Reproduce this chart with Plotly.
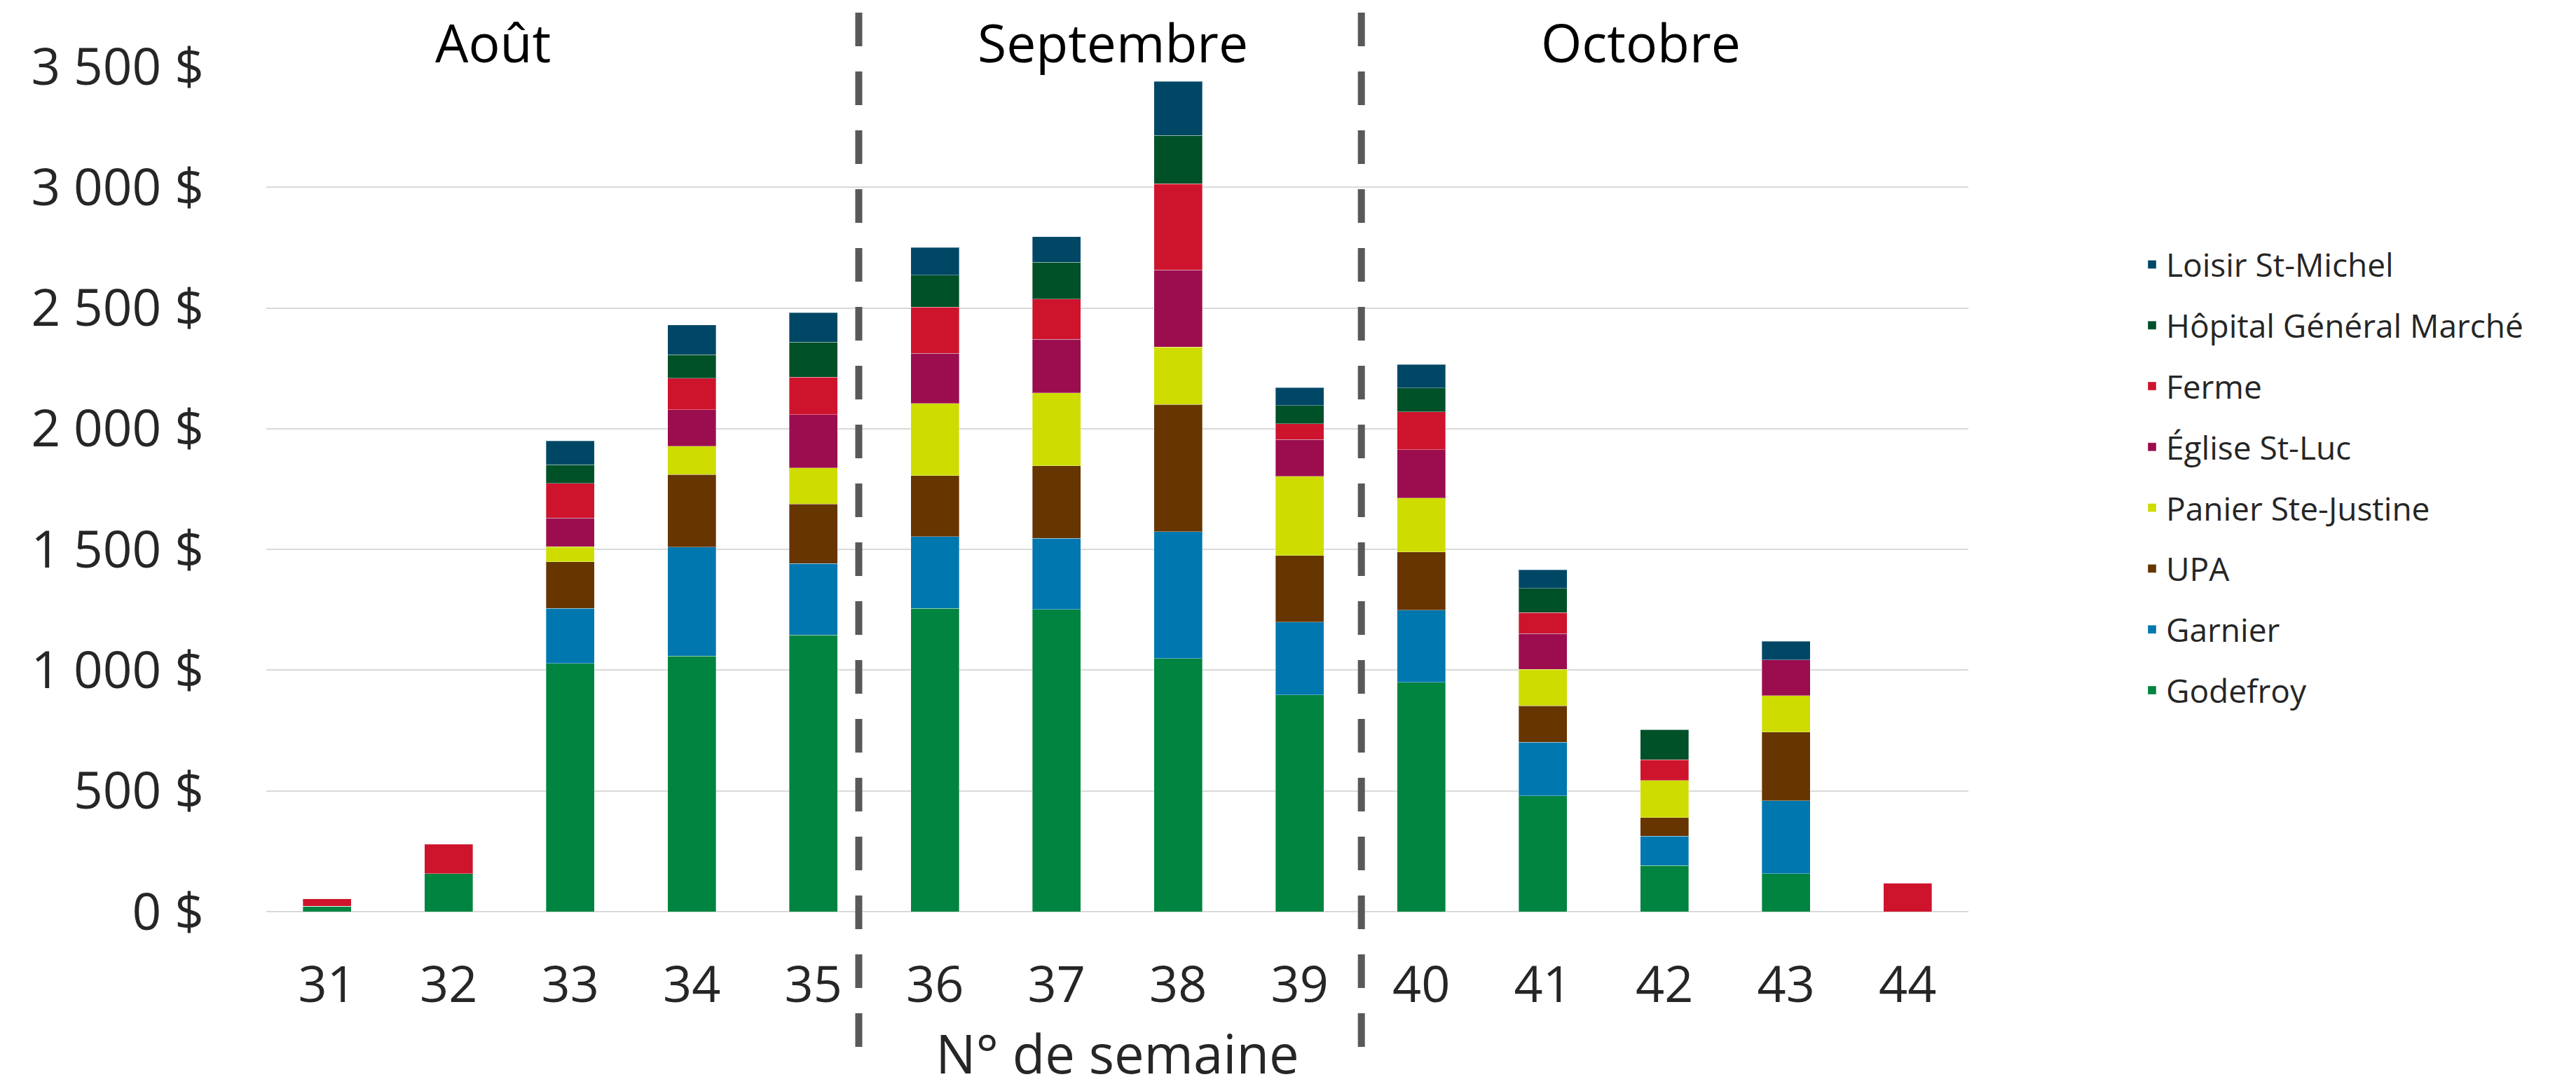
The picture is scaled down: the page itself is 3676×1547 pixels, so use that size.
import plotly.graph_objects as go

weeks = ["31", "32", "33", "34", "35", "36", "37", "38", "39", "40", "41", "42", "43", "44"]

godefroy = [22, 158, 1028, 1058, 1146, 1256, 1252, 1049, 898, 950, 480, 191, 157, 0]
garnier = [0, 0, 228, 452, 296, 298, 294, 525, 301, 299, 222, 122, 302, 0]
upa = [0, 0, 193, 300, 247, 252, 300, 526, 276, 240, 151, 76, 284, 0]
panier = [0, 0, 63, 118, 149, 299, 302, 239, 328, 224, 150, 155, 151, 0]
eglise = [0, 0, 118, 150, 221, 207, 223, 319, 152, 200, 149, 0, 149, 0]
ferme = [31, 121, 144, 132, 155, 192, 166, 357, 65, 157, 86, 85, 0, 118]
hopital = [0, 0, 77, 96, 145, 132, 152, 200, 76, 99, 101, 125, 0, 0]
loisir = [0, 0, 99, 124, 121, 114, 107, 224, 74, 97, 77, 0, 77, 0]

series_names = ["Godefroy", "Garnier", "UPA", "Panier Ste-Justine", "Église St-Luc",
                "Ferme", "Hôpital Général Marché", "Loisir St-Michel"]
series_values = [godefroy, garnier, upa, panier, eglise, ferme, hopital, loisir]
series_colors = ["#00843F", "#0077AE", "#663500", "#CEDC00", "#9B0D4E",
                 "#CE142D", "#005028", "#004766"]

y_tickvals = [0, 500, 1000, 1500, 2000, 2500, 3000, 3500]
y_ticktext = ["0 $", "500 $", "1 000 $", "1 500 $", "2 000 $", "2 500 $", "3 000 $", "3 500 $"]

months = ["Août", "Septembre", "Octobre"]

FONT = "Open Sans"

fig = go.Figure()
n = len(series_names)
for i, (name, vals, col) in enumerate(zip(series_names, series_values, series_colors)):
    fig.add_trace(go.Bar(
        x=weeks, y=vals, name=name, legendgroup=name, legendrank=n - i,
        marker=dict(color=col, line=dict(color="rgba(255,255,255,0.35)", width=1)),
    ))

W, H = 3676, 1547
L, R, T, B = 372, 875, 87, 254
plot_h = H - T - B
plot_w = W - L - R


def py(px):
    return (H - B - px) / plot_h


def pxx(px):
    return (px - L) / plot_w


month_x = [695, 1580, 2333]
for m, mx in zip(months, month_x):
    fig.add_annotation(text=m, x=pxx(mx), y=py(52), xref="paper", yref="paper",
                       xanchor="center", yanchor="middle", showarrow=False,
                       font=dict(family=FONT, size=75, color="#000000"))

for sx in [4.373, 8.507]:
    fig.add_shape(type="line", xref="x", yref="paper", x0=sx, x1=sx,
                  y0=py(10), y1=py(1486),
                  line=dict(color="#595959", width=10, dash="48px,36px"))

fig.update_layout(
    width=W, height=H,
    barmode="stack", bargap=0.6,
    paper_bgcolor="white", plot_bgcolor="white",
    margin=dict(l=L, r=R, t=T, b=B, pad=0),
    font=dict(family=FONT, color="#262626"),
    showlegend=True,
    legend=dict(traceorder="grouped", tracegroupgap=24,
                x=pxx(3043), xanchor="left", y=py(333), yanchor="top",
                font=dict(family=FONT, size=46, color="#262626"),
                bgcolor="rgba(0,0,0,0)"),
    xaxis=dict(type="category", showgrid=False, showline=False, zeroline=False,
               tickfont=dict(family=FONT, size=72, color="#262626"),
               ticks="", ticklabelstandoff=56, automargin=False,
               title=dict(text="N° de semaine", standoff=24,
                          font=dict(family=FONT, size=76, color="#262626"))),
    yaxis=dict(range=[0, 3500], tickvals=y_tickvals, ticktext=y_ticktext,
               showgrid=True, gridcolor="#D9D9D9", gridwidth=2,
               zeroline=True, zerolinecolor="#D9D9D9", zerolinewidth=2,
               showline=False, ticks="", ticklabelstandoff=88, automargin=False,
               tickfont=dict(family=FONT, size=73, color="#262626")),
)

fig.write_html("out.html")
